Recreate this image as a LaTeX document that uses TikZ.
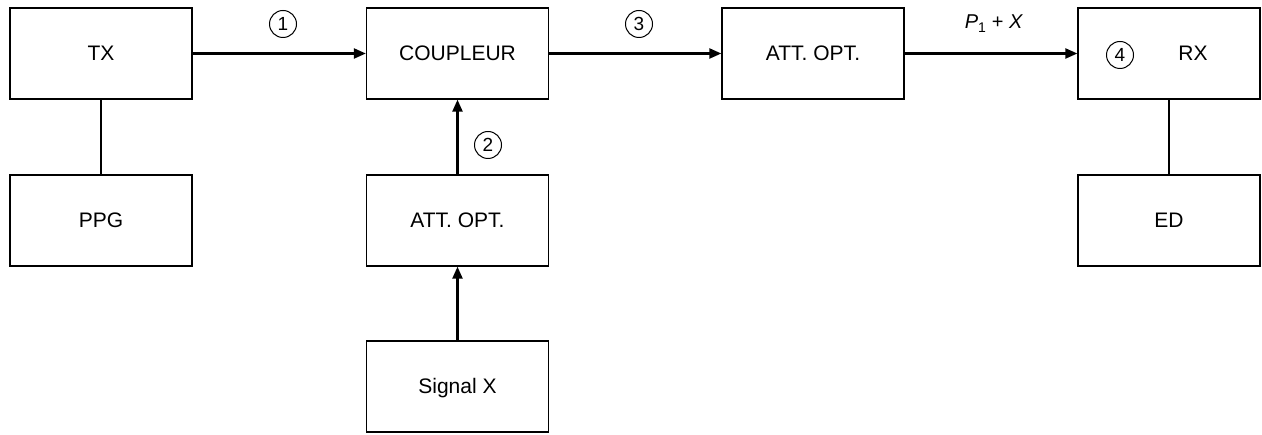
\documentclass[tikz,border=0pt]{standalone}
\usepackage{fontspec}
\setmainfont{Liberation Sans}
\usetikzlibrary{arrows.meta}
\begin{document}
\begin{tikzpicture}[x=1pt,y=-1pt,
  blk/.style={draw, line width=1.3pt, minimum width=182pt, minimum height=91pt, inner sep=0pt,
    font=\fontsize{21}{25}\selectfont, text height=15pt, text depth=0pt},
  lbl/.style={inner sep=0pt, font=\fontsize{21}{25}\selectfont, text height=15pt, text depth=0pt},
  num/.style={draw, circle, line width=1pt, minimum size=27pt, inner sep=0pt,
    font=\fontsize{19}{22}\selectfont},
  conn/.style={line width=2.2pt},
  arr/.style={conn, -{Triangle[length=12pt,width=10pt]}}]
\useasboundingbox (0,0) rectangle (1262,435);
\node[blk] (tx) at (101,53.5) {TX};
\node[blk] (ppg) at (101,220.5) {PPG};
\node[blk] (coup) at (457.5,53.5) {COUPLEUR};
\node[blk] (att2) at (457.5,220.5) {ATT. OPT.};
\node[blk] (sig) at (457.5,386.5) {Signal X};
\node[blk] (att1) at (813,53.5) {ATT. OPT.};
\node[blk] (rx) at (1169,53.5) {};
\node[lbl] (rxl) at (1193,53.5) {RX};
\node[blk] (ed) at (1169,220.5) {ED};
\draw[conn] (tx) -- (ppg);
\draw[conn] (rx) -- (ed);
\draw[arr] (tx) -- (coup);
\draw[arr] (coup) -- (att1);
\draw[arr] (att1) -- (rx);
\draw[arr] (att2) -- (coup);
\draw[arr] (sig) -- (att2);
\node[num] (n1) at (283,24) {1};
\node[num] (n2) at (488,145) {2};
\node[num] (n3) at (639,24) {3};
\node[num] (n4) at (1120,55) {4};
\node[inner sep=0pt, anchor=base, font=\fontsize{20}{24}\selectfont] (px) at (994,29) {\textit{P}\textsubscript{1} + \textit{X}};
\end{tikzpicture}
\end{document}
